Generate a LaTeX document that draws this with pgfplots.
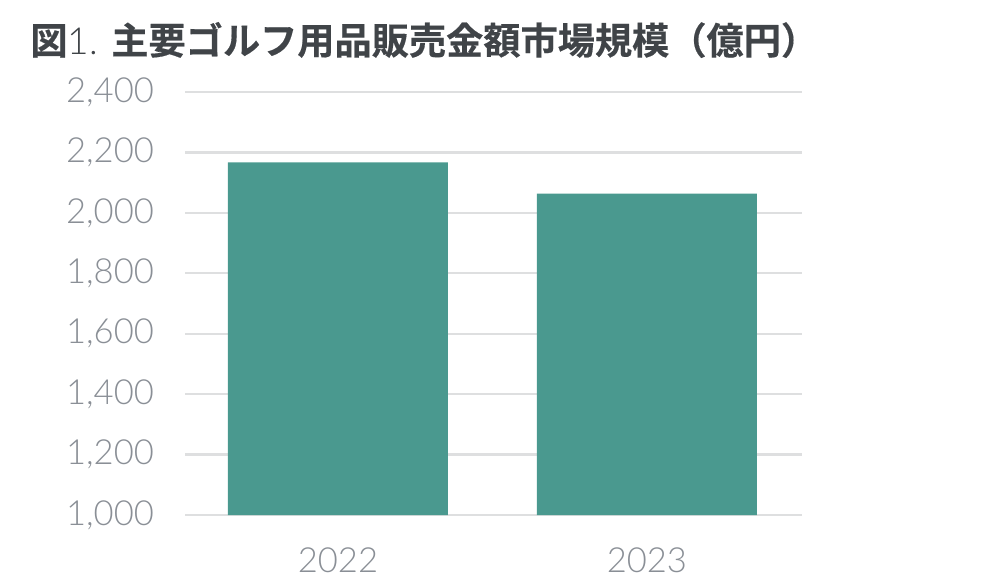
\documentclass[border=0pt]{standalone}
\usepackage{pgfplots}
\pgfplotsset{compat=1.18}
\usepackage{fontspec}
\setmainfont{Lato}
\newfontfamily\lato{Lato Light}
\newfontfamily\cjk{Noto Sans CJK JP}[BoldFont={Noto Sans CJK JP Bold}, BoldFeatures={FakeBold=0.4}]

\definecolor{barteal}{HTML}{4A998F}
\definecolor{gridgray}{HTML}{DEDFE0}
\definecolor{ticktext}{HTML}{8A8F96}
\definecolor{titletext}{HTML}{404448}

\begin{document}
\begin{tikzpicture}
  \path[use as bounding box] (0,0) rectangle (499.5pt,293pt);
  \node[anchor=west, text=titletext, inner sep=0pt] at (15pt,273pt)
    {\fontsize{18.6pt}{20pt}\selectfont\cjk\bfseries 図{\mdseries\lato 1. }主要ゴルフ用品販売金額市場規模（億円）};
  \begin{axis}[
    at={(92.5pt,35.5pt)},
    anchor=south west,
    scale only axis,
    width=308.5pt,
    height=211.5pt,
    ybar,
    bar width=110pt,
    xmin=-0.495, xmax=1.502,
    ymin=1000, ymax=2400,
    ytick={1000,1200,...,2400},
    xtick=data,
    xticklabels={2022,2023},
    axis line style={draw=none},
    major tick length=0pt,
    ymajorgrids=true,
    grid style={line width=1.2pt, draw=gridgray},
    /pgf/number format/assume math mode=true,
    /pgf/number format/1000 sep={,},
    ticklabel style={font=\fontsize{17.3pt}{19pt}\selectfont\lato, text=ticktext},
    yticklabel style={anchor=east, xshift=-12pt},
    xticklabel style={anchor=center, yshift=-22.5pt},
  ]
  % market size, 100 million yen
  \addplot[fill=barteal, draw=none] coordinates {
    (0, 2167)
    (1, 2064)
  };
  \end{axis}
\end{tikzpicture}
\end{document}
